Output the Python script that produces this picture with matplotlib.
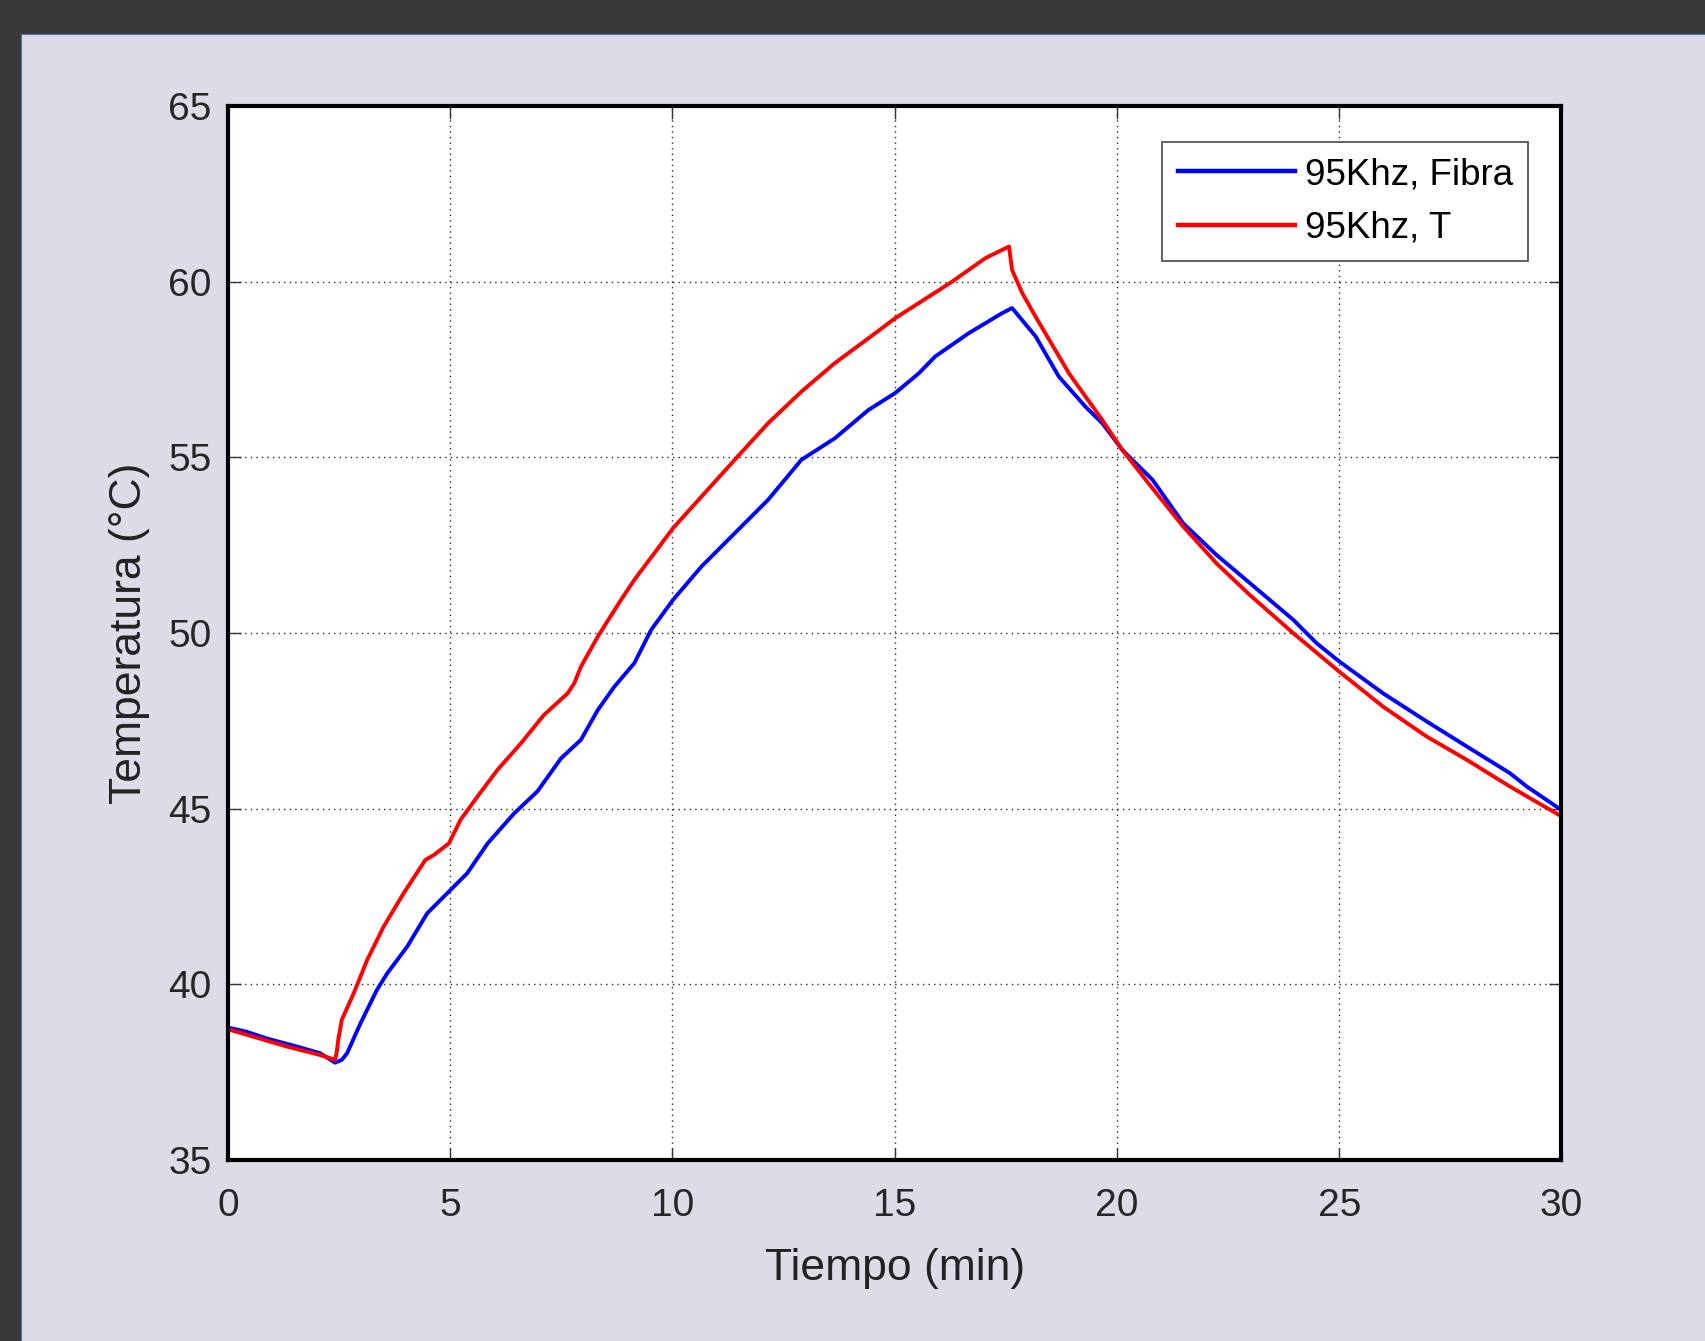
import matplotlib
matplotlib.use("Agg")
import matplotlib.pyplot as plt
from matplotlib.patches import Rectangle
from matplotlib.lines import Line2D

plt.rcParams['font.family'] = ['Liberation Sans', 'DejaVu Sans']

# ---- data ----
t_fibra = [0.0, 0.42, 0.87, 1.55, 2.07, 2.41, 2.56, 2.68, 2.98, 3.35, 3.58, 4.03,
           4.48, 4.93, 5.38, 5.84, 6.44, 6.96, 7.49, 7.94, 8.32, 8.69, 9.14, 9.52,
           10.01, 10.65, 11.40, 12.15, 12.90, 13.65, 14.41, 15.01, 15.54, 15.91,
           16.66, 17.41, 17.64, 18.17, 18.69, 19.29, 19.67, 20.12, 20.80, 21.49,
           22.24, 22.99, 23.97, 24.49, 25.00, 25.99, 26.97, 27.87, 28.84, 29.22, 30.0]
T_fibra = [38.77, 38.65, 38.46, 38.23, 38.04, 37.77, 37.85, 38.04, 38.89, 39.84, 40.31, 41.07,
           42.02, 42.59, 43.16, 44.01, 44.87, 45.49, 46.43, 46.96, 47.81, 48.47, 49.14, 50.09,
           50.94, 51.89, 52.84, 53.79, 54.93, 55.54, 56.35, 56.83, 57.39, 57.87,
           58.53, 59.10, 59.25, 58.44, 57.30, 56.44, 55.97, 55.21, 54.36, 53.12,
           52.22, 51.42, 50.37, 49.71, 49.19, 48.28, 47.48, 46.77, 46.01, 45.63, 44.96]

t_T = [0.0, 0.57, 1.32, 2.07, 2.41, 2.45, 2.48, 2.56, 2.83, 3.13, 3.50, 3.95, 4.44,
       4.63, 4.97, 5.23, 5.61, 6.06, 6.59, 7.11, 7.64, 7.79, 7.94, 8.32, 8.84, 9.14,
       10.01, 10.65, 11.40, 12.15, 12.90, 13.65, 14.41, 15.01, 15.54, 16.29, 17.04,
       17.57, 17.64, 17.87, 18.17, 18.92, 19.67, 20.12, 20.74, 21.49, 22.24, 22.99,
       23.97, 25.00, 25.99, 26.97, 27.87, 28.84, 30.0]
T_T = [38.72, 38.51, 38.23, 37.99, 37.85, 38.10, 38.42, 38.99, 39.75, 40.69, 41.64, 42.59, 43.54,
       43.68, 44.01, 44.68, 45.34, 46.10, 46.86, 47.67, 48.28, 48.57, 49.04, 49.90, 50.94, 51.51,
       52.98, 53.88, 54.93, 55.97, 56.87, 57.68, 58.39, 58.96, 59.39, 60.00, 60.67,
       61.00, 60.33, 59.67, 59.00, 57.39, 56.06, 55.21, 54.21, 53.03, 51.98, 51.08,
       49.99, 48.90, 47.90, 47.05, 46.39, 45.63, 44.78]

series_labels = ['95Khz, Fibra', '95Khz, T']
x_ticks = [0, 5, 10, 15, 20, 25, 30]
y_ticks = [35, 40, 45, 50, 55, 60, 65]
x_label = 'Tiempo (min)'
y_label = 'Temperatura (°C)'

# ---- figure ----
W, H = 1706, 1341
light = '#DDDCE6'
dark = '#3A3937'
fig = plt.figure(figsize=(W / 100, H / 100), dpi=100, facecolor=light)

# dark window frame (top bar and left bar)
fig.add_artist(Rectangle((0, 1 - 34 / H), 1, 34 / H, transform=fig.transFigure,
                         facecolor=dark, edgecolor='none', zorder=0))
fig.add_artist(Rectangle((0, 0), 21 / W, 1, transform=fig.transFigure,
                         facecolor=dark, edgecolor='none', zorder=0))
fig.add_artist(Line2D([21 / W, 1], [1 - 34 / H, 1 - 34 / H], transform=fig.transFigure,
                      color='#4A78C0', lw=0.8))
fig.add_artist(Line2D([21 / W, 21 / W], [0, 1 - 34 / H], transform=fig.transFigure,
                      color='#4A78C0', lw=0.8))

left, right, top, bottom = 228, 1561.5, 106, 1160
ax = fig.add_axes([left / W, 1 - bottom / H, (right - left) / W, (bottom - top) / H])
ax.set_facecolor('white')

ax.plot(t_fibra, T_fibra, color='#0000FF', lw=2.8, label=series_labels[0], zorder=3)
ax.plot(t_T, T_T, color='#FF0000', lw=2.8, label=series_labels[1], zorder=3)

ax.set_xlim(0, 30)
ax.set_ylim(35, 65)
ax.set_xticks(x_ticks)
ax.set_yticks(y_ticks)

ax.grid(True, color='#2A2A2A', linestyle=(0, (1, 3)), linewidth=1.0)
ax.set_axisbelow(True)

for s in ax.spines.values():
    s.set_linewidth(3.0)
    s.set_color('black')
    s.set_zorder(5)

ax.tick_params(axis='both', direction='in', length=9, width=1.0, color='#333333',
               top=True, right=True, labelsize=28, labelcolor='#262626')
ax.tick_params(axis='x', pad=20)
ax.tick_params(axis='y', pad=12)

ax.set_xlabel(x_label, fontsize=32, color='#222222')
ax.set_ylabel(y_label, fontsize=32, color='#222222')
ax.xaxis.label.set_verticalalignment('center')
ax.xaxis.set_label_coords(0.5, -0.1025)
ax.yaxis.label.set_verticalalignment('center')
ax.yaxis.set_label_coords(-0.0735, 0.5)

leg = ax.legend(loc='upper right', bbox_to_anchor=(0.975, 0.966), borderaxespad=0,
                fontsize=26.5, handlelength=3.2, handletextpad=0.25, labelspacing=0.5,
                borderpad=0.42, fancybox=False, framealpha=1, edgecolor='#555555')
leg.get_frame().set_linewidth(1.3)
for txt in leg.get_texts():
    txt.set_color('black')
for ln in leg.get_lines():
    ln.set_linewidth(3.2)

fig.savefig('out.png', dpi=100, facecolor=light)
